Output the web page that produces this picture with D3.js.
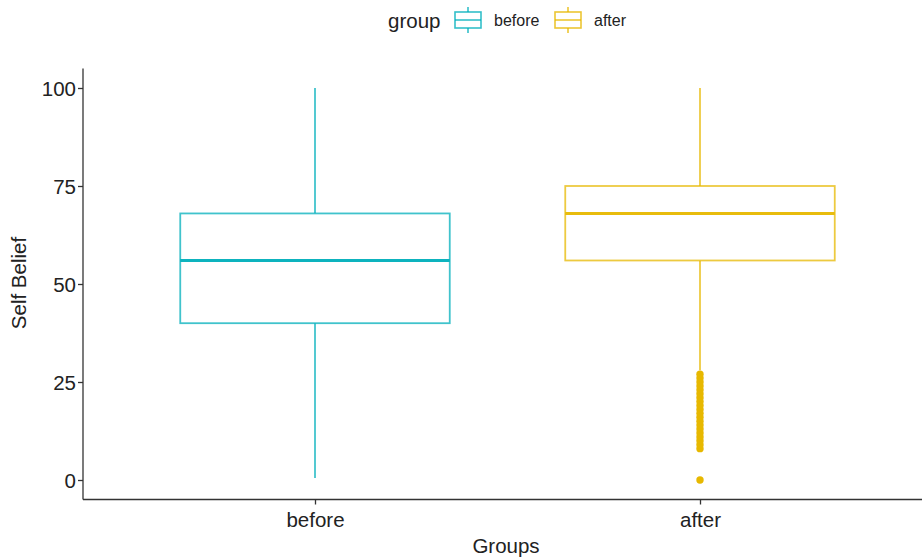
<!DOCTYPE html>
<html><head><meta charset="utf-8">
<script src="https://cdn.jsdelivr.net/npm/d3@7"></script>
<style>body{margin:0;background:#fff}svg{display:block}text{font-family:"Liberation Sans",Arial,sans-serif}</style>
</head><body>
<script>
const groups = ["before","after"];
const colors = ["#00AFBB","#E7B800"];
const q1 = [40, 56];
const medians = [56, 68];
const q3 = [68, 75];
const whiskLow = [0.5, 28];
const whiskHigh = [100, 100];
const outliersAfter = [0,8,9,10,11,12,13,14,15,16,17,18,19,20,21,22,23,24,25,26,27];
const yTicks = [0,25,50,75,100];

const W=922,H=560;
const svg=d3.select("body").append("svg").attr("width",W).attr("height",H);
const x=d3.scalePoint().domain(groups).range([84,931]).padding(0.6);
const step=x.step();
const y=d3.scaleLinear().domain([-5,105]).range([499.6,68.4]);
const bw=step*0.7;

// boxes
groups.forEach((g,i)=>{
  const gg=svg.append("g").attr("stroke",colors[i]).attr("fill","none").attr("stroke-width",1.8).attr("stroke-opacity",0.75);
  const cx=x(g);
  gg.append("line").attr("x1",cx).attr("x2",cx).attr("y1",y(q3[i])).attr("y2",y(whiskHigh[i]));
  gg.append("line").attr("x1",cx).attr("x2",cx).attr("y1",y(q1[i])).attr("y2",y(whiskLow[i]));
  gg.append("rect").attr("x",cx-bw/2).attr("width",bw).attr("y",y(q3[i])).attr("height",y(q1[i])-y(q3[i])).attr("fill","#fff");
  gg.append("line").attr("x1",cx-bw/2).attr("x2",cx+bw/2).attr("y1",y(medians[i])).attr("y2",y(medians[i])).attr("stroke-width",3).attr("stroke-opacity",0.95);
});
svg.append("g").selectAll("circle").data(outliersAfter).join("circle")
  .attr("cx",x("after")).attr("cy",d=>y(d)).attr("r",3.7).attr("fill",colors[1]);

// axes
const ya=svg.append("g").attr("transform","translate(83,0)").call(d3.axisLeft(y).tickValues(yTicks).tickSize(5).tickSizeOuter(0));
const xa=svg.append("g").attr("transform","translate(0,499.5)").call(d3.axisBottom(x).tickSize(5).tickSizeOuter(0));
[ya,xa].forEach(a=>{a.select(".domain").attr("stroke","#333").attr("stroke-width",1.3);
  a.selectAll(".tick line").attr("stroke","#333").attr("stroke-width",1.3);
  a.selectAll(".tick text").attr("fill","#222").attr("font-size",20.5);});
ya.selectAll(".tick text").attr("x",-7).attr("dy","0.35em");
xa.selectAll(".tick text").attr("y",13).attr("dy","0.71em");
ya.select(".domain").attr("d","M0,68.4V499.5");
xa.select(".domain").attr("d","M83,0H922");

svg.append("text").attr("x",506).attr("y",553).attr("text-anchor","middle").attr("font-size",20.5).attr("fill","#222").text("Groups");
svg.append("text").attr("transform","translate(26,283) rotate(-90)").attr("text-anchor","middle").attr("font-size",20.5).attr("fill","#222").text("Self Belief");

// legend
const lg=svg.append("g");
lg.append("text").attr("x",388).attr("y",28).attr("font-size",20.5).attr("fill","#222").text("group");
const keys=[{x:455,t:"before"},{x:555,t:"after"}];
keys.forEach((k,i)=>{
  const g=lg.append("g").attr("stroke",colors[i]).attr("fill","none").attr("stroke-width",1.6).attr("stroke-opacity",0.8);
  g.append("rect").attr("x",k.x).attr("y",12).attr("width",26).attr("height",16);
  g.append("line").attr("x1",k.x).attr("x2",k.x+26).attr("y1",20).attr("y2",20);
  g.append("line").attr("x1",k.x+13).attr("x2",k.x+13).attr("y1",7).attr("y2",12);
  g.append("line").attr("x1",k.x+13).attr("x2",k.x+13).attr("y1",28).attr("y2",33);
  lg.append("text").attr("x",k.x+39).attr("y",26).attr("font-size",16).attr("fill","#222").text(k.t);
});
</script>
</body></html>
